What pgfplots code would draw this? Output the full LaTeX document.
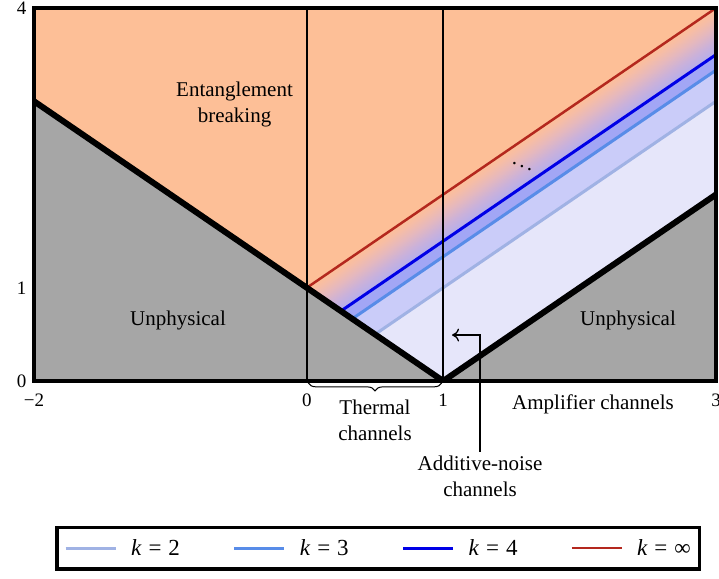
\documentclass[border=0pt]{standalone}
\usepackage{fontspec}
\setmainfont{Liberation Serif}
\usepackage{pgfplots}
\pgfplotsset{compat=1.18}
\usetikzlibrary{arrows.meta,decorations.pathreplacing}

\definecolor{peach}{RGB}{253,191,151}
\definecolor{unphys}{RGB}{166,166,166}
\definecolor{lav1}{RGB}{230,230,250}
\definecolor{lav2}{RGB}{202,204,249}
\definecolor{lav3}{RGB}{162,166,245}
\definecolor{ktwo}{RGB}{160,178,228}
\definecolor{kthree}{RGB}{88,140,232}
\definecolor{kfour}{RGB}{0,0,230}
\definecolor{kinf}{RGB}{180,40,30}

\newcommand\bigfont{\fontsize{21bp}{26bp}\selectfont}
\newcommand\tickfont{\fontsize{19bp}{23bp}\selectfont}

\begin{document}
\begin{tikzpicture}[font=\bigfont]
\begin{axis}[
    at={(34bp,198bp)}, anchor=south west,
    scale only axis, width=682bp, height=373bp,
    xmin=-2, xmax=3, ymin=0, ymax=4,
    xtick={-2,0,1,3}, xticklabels={−2,0,1,3},
    ytick={0,1,4}, yticklabels={0,1,4},
    major tick length=0pt,
    xticklabel style={font=\tickfont, yshift=-9bp},
    yticklabel style={font=\tickfont, xshift=-4bp},
    axis line style={line width=4bp},
    axis on top,
    clip mode=individual,
    colormap={band}{rgb255(0cm)=(178,174,238) rgb255(3cm)=(202,177,218) rgb255(6cm)=(229,184,190) rgb255(8.5cm)=(246,189,166) rgb255(10cm)=(252,191,154)},
    point meta min=0, point meta max=1,
    legend columns=4,
    legend style={at={(0.505,-0.448)}, anchor=center, draw=black, line width=3.5bp,
        font=\fontsize{23bp}{27bp}\selectfont,
        inner xsep=7bp, inner ysep=10bp,
        /tikz/every odd column/.append style={column sep=12bp},
        /tikz/every even column/.append style={column sep=51bp}},
    legend image code/.code={\draw[#1] (0bp,0bp) -- (50bp,0bp);},
]

% regions
\addplot[fill=peach, draw=none, forget plot] coordinates {(-2,3)(-2,4)(3,4)(0,1)} -- cycle;
\addplot[fill=unphys, draw=none, forget plot] coordinates {(-2,0)(-2,3)(0,1)(1,0)} -- cycle;
\addplot[fill=unphys, draw=none, forget plot] coordinates {(1,0)(3,2)(3,0)} -- cycle;
\addplot[fill=lav1, draw=none, forget plot] coordinates {(0.5,0.5)(1,0)(3,2)(3,3)} -- cycle;
\addplot[fill=lav2, draw=none, forget plot] coordinates {(0.3333,0.6667)(0.5,0.5)(3,3)(3,3.3333)} -- cycle;
\addplot[fill=lav3, draw=none, forget plot] coordinates {(0.25,0.75)(0.3333,0.6667)(3,3.3333)(3,3.5)} -- cycle;
\addplot[patch, shader=interp, point meta=explicit, forget plot] coordinates {
    (0.25,0.75) [0] (3,3.5) [0] (3,4) [1]
    (0.25,0.75) [0] (3,4) [1] (0,1) [1]
};

% k lines
\addplot[ktwo, line width=3bp] coordinates {(0.5,0.5)(3,3)};
\addlegendentry{\textit{k}\hspace{0.3em}=\hspace{0.3em}2}
\addplot[kthree, line width=3bp] coordinates {(0.3333,0.6667)(3,3.3333)};
\addlegendentry{\textit{k}\hspace{0.3em}=\hspace{0.3em}3}
\addplot[kfour, line width=3bp] coordinates {(0.25,0.75)(3,3.5)};
\addlegendentry{\textit{k}\hspace{0.3em}=\hspace{0.3em}4}
\addplot[kinf, line width=2.5bp] coordinates {(0,1)(3,4)};
\addlegendentry{\textit{k}\hspace{0.3em}=\hspace{0.3em}∞}

% separators and physical boundary
\addplot[black, line width=2bp, forget plot] coordinates {(0,0)(0,4)};
\addplot[black, line width=2bp, forget plot] coordinates {(1,0)(1,4)};
\addplot[black, line width=6bp, forget plot] coordinates {(-2,3)(1,0)(3,2)};

% annotations
\node[align=center] at (axis cs:-0.53,2.96) {Entanglement\\breaking};
\node at (axis cs:-0.944,0.654) {Unphysical};
\node at (axis cs:2.355,0.654) {Unphysical};
\node at (axis cs:1.578,2.33) {$\ddots$};
\draw[decorate, decoration={brace, mirror, amplitude=8bp}, line width=1bp]
    (axis cs:0.01,-0.02) -- (axis cs:0.99,-0.02);
\node[align=center] at (axis cs:0.5,-0.42) {Thermal\\channels};
\node at (axis cs:2.098,-0.247) {Amplifier channels};
\node[align=center] at (axis cs:1.27,-1.02) {Additive-noise\\channels};
\draw[-{To[length=7bp,width=13bp]}, line width=1.3bp]
    (axis cs:1.27,-0.76) |- (axis cs:1.065,0.493);
\end{axis}
\pgfresetboundingbox
\useasboundingbox (0,0) rectangle (719bp,579bp);
\end{tikzpicture}
\end{document}
